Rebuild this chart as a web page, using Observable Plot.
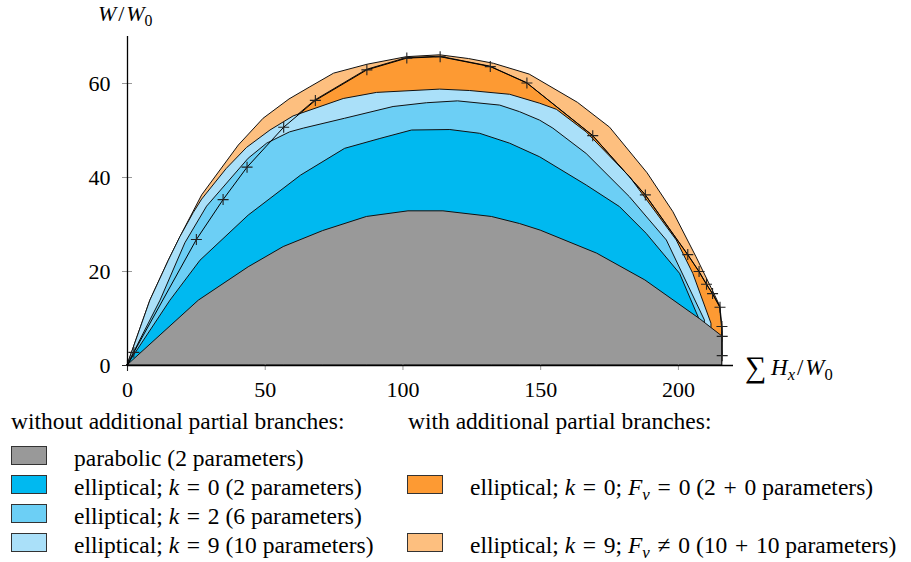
<!DOCTYPE html>
<html>
<head>
<meta charset="utf-8">
<script src="https://cdn.jsdelivr.net/npm/d3@7"></script>
<script src="https://cdn.jsdelivr.net/npm/@observablehq/plot@0.6"></script>
<style>
  html, body { margin: 0; padding: 0; background: #fff; }
  #wrap { position: relative; width: 911px; height: 562px; font-family: "Liberation Serif", "DejaVu Serif", serif; color: #000; }
  #chart { position: absolute; left: 0; top: 0; }
  .t { position: absolute; white-space: nowrap; }
  .sw { position: absolute; width: 34px; height: 17px; border: 1px solid #333; }
  i { font-style: italic; }
  sub { font-size: 72%; vertical-align: -0.3em; line-height: 0; }
  .m { padding: 0 0.08em; }
</style>
</head>
<body>
<div id="wrap">
  <div id="chart"></div>
</div>
<script>
// ---- data (x = ΣHx/W0, y = W/W0) ----
const lightOrangeK9Fv = [[0,0],[8.3,13.8],[15,22.3],[19.2,27.3],[27.1,36.2],[40.4,46.8],[49.4,52.5],[58.8,56.6],[66.4,59.2],[75,62.1],[87.2,64],[101.4,65.6],[113.5,66],[124,65.2],[133,64.2],[146,61.9],[163.5,55.9],[175.2,50.6],[188.8,40.9],[198.2,32.6],[206.6,23],[212,16.5],[215.2,12.6]];
const darkOrangeK0Fv = [[0,0],[2.3,2.8],[25,26.8],[34.7,35.3],[43.4,42.2],[56.7,50.7],[68.2,56.4],[86.9,62.9],[101.4,65.4],[113.5,65.7],[131.7,63.6],[145,60.1],[168.9,48.9],[188,36.3],[203.4,23.6],[207.5,20],[210.2,17.3],[212.4,15.3],[215.1,12.4],[215.8,8.3],[215.9,6.2],[215.9,2.1]];
const lightBlueK9 = [[0,0],[8.3,13.8],[15,22.3],[19.2,27.3],[24,32.4],[27.1,35.3],[36,41.8],[43.4,46.3],[51.9,50],[60.3,53],[78.5,56.7],[90.6,58],[113.5,58.7],[124.4,58.4],[138.9,57.6],[149.8,55.7],[155.9,54.4],[166.7,49.6],[182.4,40.1],[199.4,26.6],[205.4,19.5],[212,8.9]];
const midBlueK2 = [[0,0],[12,13.8],[21,26],[28.9,33.8],[44,44],[50.7,47.2],[59,49.6],[64,50.4],[79,52.5],[96.6,55],[108.7,55.8],[120,56.2],[135.3,55.3],[142.5,53.9],[149.8,52.1],[154.6,50.4],[166.7,45],[182.4,35.8],[195.8,26.6],[209.6,9.6]];
const blueK0 = [[0,0],[15.6,13.8],[26.5,22.3],[44,31.9],[63,40.4],[79,46.1],[91.8,48.2],[103.3,50],[117.2,50.1],[128,49.3],[138.9,47.2],[149.8,44.3],[166.7,38.3],[178.8,33.7],[188.5,28],[200.6,19.5],[207.8,9.6]];
const grayParabolic = [[0,0],[12,6.4],[25.9,13.8],[44,20.9],[56.7,25.2],[71,28.6],[86.9,31.6],[102,32.8],[114.7,32.8],[132.3,31.6],[142.5,30.1],[150,28.7],[170.5,23.8],[188,18.1],[208,9.8],[215.9,6.2]];

const xTicks = [0, 50, 100, 150, 200];
const yTicks = [0, 20, 40, 60];

const colors = {
  gray: "#999999",
  blue: "#00b9f0",
  midBlue: "#6ccff5",
  lightBlue: "#aae0f9",
  darkOrange: "#fd9a33",
  lightOrange: "#fdbf7f"
};

const legendLeft = [
  {label: "parabolic (2 parameters)", color: colors.gray},
  {label: "elliptical; <i>k</i> <span class='m'>=</span> 0 (2 parameters)", color: colors.blue},
  {label: "elliptical; <i>k</i> <span class='m'>=</span> 2 (6 parameters)", color: colors.midBlue},
  {label: "elliptical; <i>k</i> <span class='m'>=</span> 9 (10 parameters)", color: colors.lightBlue}
];
const legendRight = [
  null,
  {label: "elliptical; <i>k</i> <span class='m'>=</span> 0; <i>F<sub>v</sub></i> <span class='m'>=</span> 0 (2 <span class='m'>+</span> 0 parameters)", color: colors.darkOrange},
  null,
  {label: "elliptical; <i>k</i> <span class='m'>=</span> 9; <i>F<sub>v</sub></i> <span class='m'>≠</span> 0 (10 <span class='m'>+</span> 10 parameters)", color: colors.lightOrange}
];

const plusSymbol = {
  draw(ctx, size) {
    const a = Math.sqrt(size / Math.PI);
    ctx.moveTo(-a, 0); ctx.lineTo(a, 0);
    ctx.moveTo(0, -a); ctx.lineTo(0, a);
  }
};

const px = d => d[0], py = d => d[1];
const area = (data, fill) => Plot.areaY(data, {x: px, y: py, fill, stroke: "#111", strokeWidth: 1, curve: "linear"});

const chart = Plot.plot({
  width: 911,
  height: 405,
  marginLeft: 127,
  marginRight: 178,
  marginTop: 36,
  marginBottom: 40,
  x: {domain: [0, 220]},
  y: {domain: [0, 70]},
  style: {fontFamily: "'Liberation Serif', serif", fontSize: "22px", background: "transparent", color: "#000"},
  marks: [
    area(lightOrangeK9Fv, colors.lightOrange),
    area(darkOrangeK0Fv, colors.darkOrange),
    area(lightBlueK9, colors.lightBlue),
    area(midBlueK2, colors.midBlue),
    area(blueK0, colors.blue),
    area(grayParabolic, colors.gray),
    Plot.line(darkOrangeK0Fv, {x: px, y: py, stroke: "#000", strokeWidth: 1}),
    Plot.dot(darkOrangeK0Fv, {x: px, y: py, symbol: plusSymbol, r: 5.5, stroke: "#222", strokeWidth: 1.1, fill: "none"}),
    Plot.ruleX(xTicks.slice(1), {x: d => d, y1: 0, y2: 0, insetTop: -5, insetBottom: -5, stroke: "#999"}),
    Plot.ruleY(yTicks.slice(1), {y: d => d, x1: 0, x2: 0, insetLeft: -5, insetRight: -5, stroke: "#999"}),
    Plot.ruleY([0], {stroke: "#000", strokeWidth: 1.3}),
    Plot.ruleX([0], {stroke: "#000", strokeWidth: 1.3}),
    Plot.axisX({ticks: xTicks, tickSize: 0, tickPadding: 16, label: null, fontSize: 22, tickFormat: d => String(d)}),
    Plot.axisY({ticks: yTicks, tickSize: 0, tickPadding: 17, label: null, fontSize: 22, tickFormat: d => String(d)})
  ]
});
document.getElementById("chart").appendChild(chart);

const wrap = document.getElementById("wrap");
function addText(html, left, baseline, fs = 23.5) {
  const d = document.createElement("div");
  d.className = "t";
  d.style.fontSize = fs + "px";
  d.style.lineHeight = fs + "px";
  d.style.left = left + "px";
  d.style.top = (baseline - 0.8375 * fs) + "px";
  d.innerHTML = html;
  wrap.appendChild(d);
}
function addSwatch(left, top, color) {
  const s = document.createElement("div");
  s.className = "sw";
  s.style.left = left + "px";
  s.style.top = top + "px";
  s.style.background = color;
  wrap.appendChild(s);
}

// axis titles
addText("<i>W</i>&#8202;/&#8202;<i>W</i><sub>0</sub>", 98, 21, 22);
addText("<span style='font-size:30px;position:relative;top:2px'>∑</span>&thinsp;<i>H<sub>x</sub></i>&#8202;/&#8202;<i>W</i><sub>0</sub>", 745, 372, 23);

// legend
addText("without additional partial branches:", 11, 430);
addText("with additional partial branches:", 408, 430);
const rowBase = [466.5, 495.5, 524.5, 553.5];
legendLeft.forEach((e, i) => {
  addSwatch(11, rowBase[i] - 21, e.color);
  addText(e.label, 74, rowBase[i]);
});
legendRight.forEach((e, i) => {
  if (!e) return;
  addSwatch(407, rowBase[i] - 21, e.color);
  addText(e.label, 470, rowBase[i]);
});
</script>
</body>
</html>
